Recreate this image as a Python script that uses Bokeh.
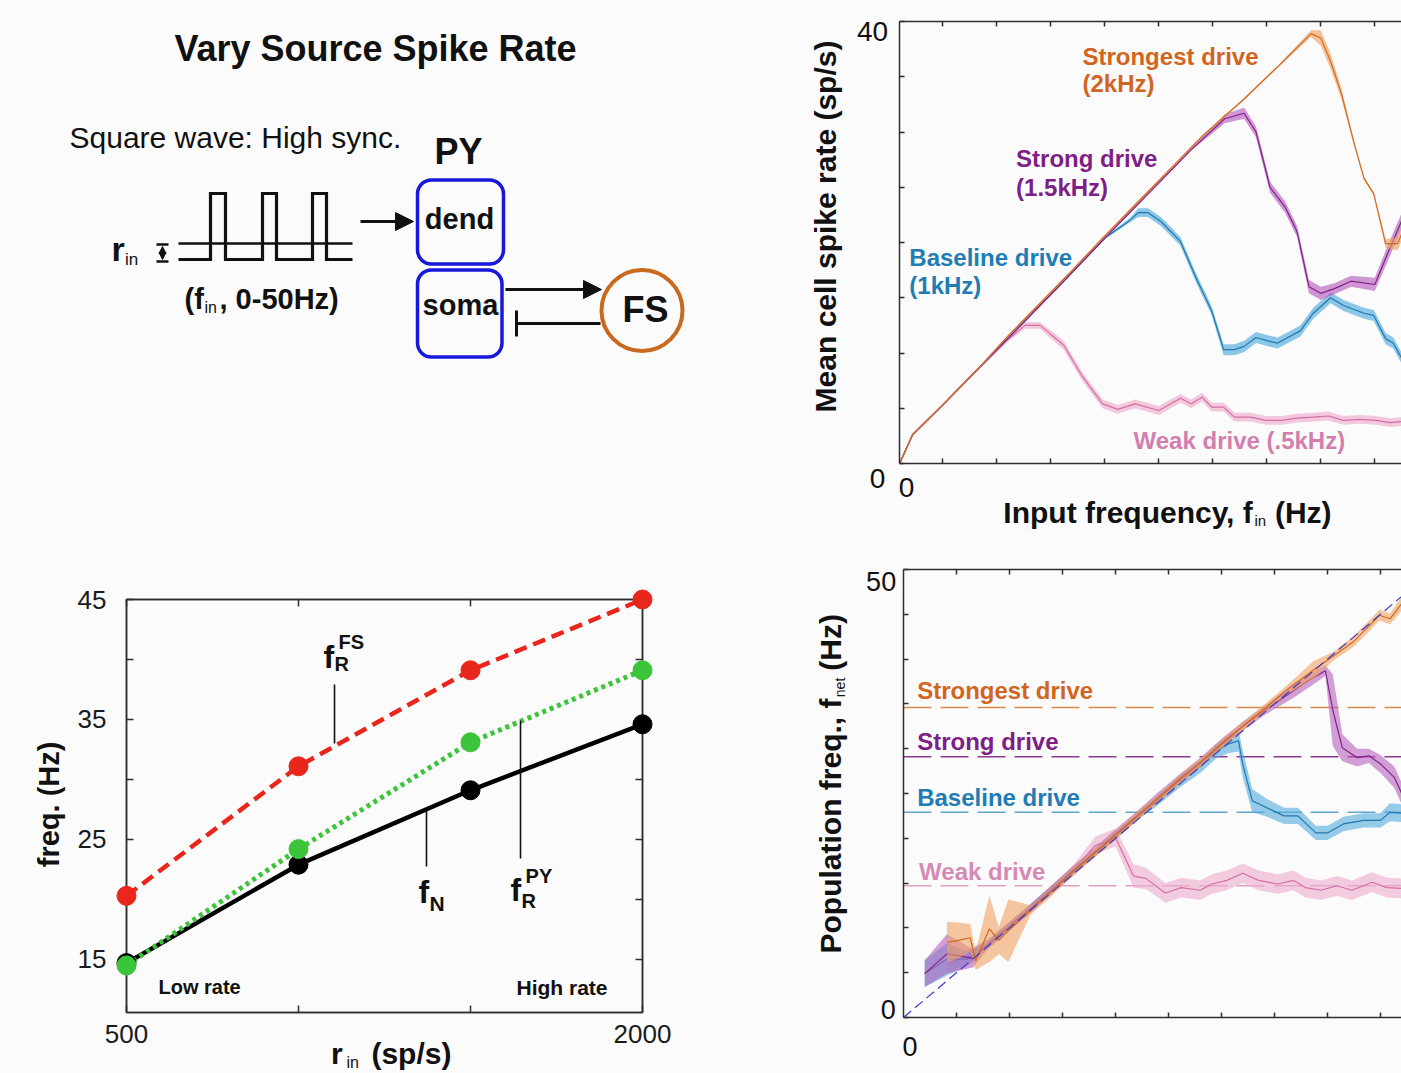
import numpy as np
from bokeh.plotting import figure
from bokeh.models import (Range1d, FixedTicker, Arrow, NormalHead, TeeHead,
                          Span, Slope, LinearAxis)
from bokeh.core.properties import value
from bokeh.layouts import column, row
from bokeh.embed import file_html
from bokeh.resources import INLINE

FONT = "Liberation Sans"
BG = "#fbfbfb"
INK = "#111111"
AX = "#2e2e2e"

# ---------------- bottom-left panel: frequencies vs source rate ----------------
r_in = [500, 1000, 1500, 2000]
f_N = [14.7, 22.9, 29.1, 34.6]
f_R_PY = [14.5, 24.2, 33.1, 39.1]
f_R_FS = [20.3, 31.1, 39.1, 45.0]

# ---------------- top-right panel: mean cell spike rate vs input frequency ----------------
rate_weak_f = [1, 2.2, 5, 8, 11, 12.6, 14.0, 16.2, 17.9, 19.8, 21.2, 22.8, 25.0, 27.0, 28.0, 29.0,
               29.9, 31.0, 32.0, 33.5, 34.9, 36.4, 37.8, 39.3, 40.7, 42.1, 43.6, 45.1, 46.4, 47.5]
rate_weak = [0.0, 2.6, 5.3, 8.3, 11.2, 12.5, 12.5, 10.7, 7.9, 5.4, 4.9, 5.4, 4.8, 5.9, 5.4, 6.0,
             5.1, 5.1, 4.2, 4.2, 3.9, 3.9, 4.1, 4.2, 4.3, 3.9, 4.0, 3.9, 3.7, 3.8]
rate_weak_sem = [0.1, 0.1, 0.1, 0.1, 0.2, 0.3, 0.3, 0.4, 0.4, 0.4, 0.4, 0.4, 0.4, 0.4, 0.4, 0.4,
                 0.4, 0.4, 0.4, 0.4, 0.4, 0.4, 0.4, 0.4, 0.4, 0.4, 0.4, 0.4, 0.4, 0.4]

rate_base_f = [1, 2.2, 5, 8, 12, 16, 20, 22.3, 23.1, 24.0, 25.2, 27.0, 28.4, 29.9, 31.0, 32.0,
               32.9, 34.0, 35.1, 36.0, 38.1, 39.3, 40.9, 42.1, 44.0, 44.9, 46.0, 46.7, 47.5]
rate_base = [0.0, 2.6, 5.3, 8.3, 12.3, 16.3, 20.4, 22.0, 22.7, 22.7, 21.9, 20.1, 16.9, 13.8, 10.3, 10.3,
             10.6, 11.4, 11.1, 10.9, 12.0, 13.6, 15.0, 14.3, 13.6, 13.4, 11.3, 10.9, 9.5]
rate_base_sem = [0.1, 0.1, 0.1, 0.1, 0.1, 0.1, 0.1, 0.2, 0.4, 0.4, 0.4, 0.4, 0.4, 0.4, 0.5, 0.5,
                 0.5, 0.5, 0.5, 0.5, 0.5, 0.5, 0.5, 0.5, 0.5, 0.5, 0.5, 0.5, 0.5]

rate_strong_f = [1, 2.2, 5, 8, 12, 16, 20, 24, 28, 31.1, 32.9, 34.0, 35.3, 36.7, 37.8, 38.9,
                 40.0, 41.2, 42.8, 45.0, 46.1, 47.5]
rate_strong = [0.0, 2.6, 5.3, 8.3, 12.3, 16.3, 20.4, 24.4, 28.4, 31.2, 31.7, 30.0, 25.0, 23.2, 21.0, 16.0,
               15.4, 15.8, 16.5, 16.2, 18.8, 22.0]
rate_strong_sem = [0.1, 0.1, 0.1, 0.1, 0.1, 0.1, 0.1, 0.1, 0.1, 0.4, 0.5, 0.5, 0.5, 0.5, 0.5, 0.6,
                   0.6, 0.5, 0.5, 0.6, 0.7, 0.7]

rate_strongest_f = [1, 2.2, 5, 8, 11, 14, 17, 20, 23, 26, 29, 32.8, 36, 39.1, 40.0,
                    40.9, 41.9, 43.1, 44.0, 44.9, 46.0, 47.1, 47.5]
rate_strongest = [0.0, 2.6, 5.3, 8.3, 11.5, 14.5, 17.5, 20.6, 23.6, 26.6, 29.6, 32.9, 35.9, 38.9, 38.5,
                  36.4, 33.5, 28.9, 25.8, 24.4, 19.9, 19.9, 20.8]
rate_strongest_sem = [0.1, 0.1, 0.1, 0.1, 0.1, 0.1, 0.1, 0.1, 0.1, 0.1, 0.1, 0.1, 0.1, 0.3, 0.7,
                      0.7, 0.5, 0.2, 0.15, 0.15, 0.4, 0.6, 0.6]

# ---------------- bottom-right panel: population frequency vs input frequency ----------------
net_weak_f = [4.1, 6, 8, 10, 12, 14, 16, 18.1, 20.0, 21.7, 22.9, 24.7, 26.2, 28.0,
              29.1, 30.5, 32.0, 33.5, 35.3, 36.8, 37.9, 39.4, 40.9, 42.3, 44.2, 45.6, 47.0]
net_weak = [6.0, 6.8, 8.2, 10.2, 12.2, 14.3, 16.4, 19.2, 20.1, 15.8, 15.5, 13.9, 14.5, 14.2,
            14.9, 15.3, 16.1, 15.3, 14.9, 15.3, 14.5, 14.2, 14.7, 14.2, 15.1, 14.5, 14.4]
net_weak_sem = [1.0, 0.8, 0.5, 0.5, 0.5, 0.5, 0.6, 1.0, 1.0, 1.3, 1.2, 1.1, 1.1, 1.1,
                1.1, 1.1, 1.1, 1.1, 1.1, 1.1, 1.1, 1.1, 1.1, 1.1, 1.1, 1.1, 1.1]

net_base_f = [2.0, 4.1, 6, 8, 10, 12, 14, 16, 18, 20, 22, 24, 26, 28, 29.5,
              30.6, 31.6, 32.0, 32.9, 34.3, 35.9, 37.2, 38.9, 40.0, 41.5, 43.4, 45.0, 45.9, 47.0]
net_base = [4.9, 6.5, 6.5, 8.2, 10.2, 12.2, 14.3, 16.4, 18.3, 20.3, 22.4, 24.2, 26.3, 28.0, 29.7,
            30.5, 30.9, 28.3, 24.2, 23.4, 22.5, 22.5, 20.6, 20.6, 21.6, 22.0, 22.0, 22.9, 22.8]
net_base_sem = [1.5, 1.8, 0.8, 0.5, 0.4, 0.4, 0.4, 0.4, 0.4, 0.4, 0.4, 0.5, 0.7, 0.7, 0.8,
                1.0, 1.2, 1.5, 1.3, 1.0, 0.9, 0.9, 0.8, 0.8, 0.8, 0.8, 0.8, 1.0, 1.0]

net_strong_f = [2.0, 4.1, 6.6, 8, 10, 12, 14, 16, 18, 20, 22, 24, 26, 28,
                30, 32, 34, 36.8, 38.2, 39.8, 40.5, 41.4, 42.8, 43.9, 45.0, 46.3, 47.0]
net_strong = [4.9, 7.1, 6.6, 8.2, 10.2, 12.2, 14.3, 16.4, 18.4, 20.5, 22.5, 24.6, 26.6, 28.5,
              30.6, 32.5, 34.2, 36.5, 37.6, 38.7, 34.3, 30.1, 29.0, 29.2, 28.3, 26.8, 25.0]
net_strong_sem = [1.5, 2.2, 1.0, 0.5, 0.5, 0.5, 0.5, 0.5, 0.5, 0.5, 0.5, 0.5, 0.5, 0.5,
                  0.5, 0.5, 0.5, 0.8, 0.8, 0.6, 4.0, 1.5, 1.0, 0.8, 1.0, 1.2, 1.2]

net_strongest_f = [4.1, 5.2, 6.3, 6.8, 8.1, 9.0, 9.9, 12, 14, 16, 18, 20, 22, 24,
                   26, 28, 30, 32, 34, 36, 38.7, 40.5, 42.5, 44.0, 44.9, 45.9, 47.0]
net_strongest = [8.4, 8.6, 8.9, 6.3, 9.9, 8.6, 9.7, 12.0, 14.1, 16.3, 18.3, 20.3, 22.4, 24.4,
                 26.5, 28.4, 30.5, 32.5, 34.4, 36.4, 38.8, 40.3, 42.0, 43.8, 44.9, 44.5, 46.2]
net_strongest_sem = [2.3, 2.0, 1.5, 1.0, 3.7, 1.5, 3.5, 0.5, 0.5, 0.5, 0.5, 0.5, 0.5, 0.5,
                     0.5, 0.5, 0.5, 0.5, 0.5, 0.5, 1.0, 0.5, 0.6, 0.6, 0.6, 0.6, 0.8]

drive_names = ["Strongest drive", "Strong drive", "Baseline drive", "Weak drive"]

# colours
OR_L, OR_B, OR_T = "#d06a22", "#f0a262", "#d2651e"
PU_L, PU_B, PU_T = "#82208a", "#b660bc", "#7e1e86"
BL_L, BL_B, BL_T = "#1f78b0", "#52abdc", "#1e7db5"
PK_L, PK_B, PK_T = "#d46ea4", "#edaccd", "#d27fae"


def label(p, x, y, s, size, color=INK, bold=True, align="left", angle=0.0):
    # text glyph on the overlay level, so it is not clipped to the plot frame
    p.text(x=[x], y=[y], text=[s], text_font=value(FONT), text_font_size=value(f"{size}px"),
           text_font_style=value("bold" if bold else "normal"), text_color=color,
           text_align=value(align), text_baseline=value("middle"), angle=angle,
           level="overlay")


def unalign(p):
    if "frame_align" in p.properties():
        p.frame_align = False


def base_fig(w, h, xr, yr, left, right, top, bottom):
    p = figure(width=w, height=h, x_range=Range1d(*xr), y_range=Range1d(*yr), title=None,
               output_backend="svg", toolbar_location=None,
               min_border_left=left, min_border_right=right,
               min_border_top=top, min_border_bottom=bottom)
    p.background_fill_color = BG
    p.border_fill_color = BG
    p.xgrid.visible = False
    p.ygrid.visible = False
    unalign(p)
    return p


def style_axis(ax, ticks, labels=None, tick_len=6, size=26, standoff=10):
    ax.ticker = FixedTicker(ticks=ticks, minor_ticks=[])
    ax.major_tick_in = tick_len
    ax.major_tick_out = 0
    ax.minor_tick_in = 0
    ax.minor_tick_out = 0
    ax.axis_line_color = AX
    ax.axis_line_width = 1.5
    ax.major_tick_line_color = AX
    ax.major_tick_line_width = 1.5
    ax.axis_label = None
    if labels is None:
        ax.major_label_overrides = {t: "" for t in ticks}
        ax.major_label_text_font_size = "1px"
        ax.major_label_standoff = 0
    else:
        ax.major_label_overrides = {t: labels.get(t, "") for t in ticks}
        ax.major_label_text_font = FONT
        ax.major_label_text_font_size = f"{size}px"
        ax.major_label_text_color = "#1a1a1a"
        ax.major_label_standoff = standoff


# =============================== schematic (top-left) ===============================
ps = figure(width=790, height=545, x_range=Range1d(0, 790), y_range=Range1d(545, 0),
            x_axis_location=None, y_axis_location=None, title=None,
            output_backend="svg", toolbar_location=None, min_border=0)
ps.grid.visible = False
ps.outline_line_color = None
ps.background_fill_color = BG
ps.border_fill_color = BG
unalign(ps)

label(ps, 375, 48, "Vary Source Spike Rate", 36, align="center")
label(ps, 69, 137, "Square wave: High sync.", 30, bold=False)
label(ps, 458, 151, "PY", 36, align="center")

# square wave input
ps.line([178, 352], [243, 243], line_width=2.5, line_color=INK)
ps.line([178, 210, 210, 225, 225, 262, 262, 276, 276, 312, 312, 326, 326, 352],
        [259, 259, 193, 193, 259, 259, 193, 193, 259, 259, 193, 193, 259, 259],
        line_width=3.2, line_color=INK, line_join="miter")
# amplitude marker
ps.segment(x0=[156, 156], y0=[244, 261], x1=[168, 168], y1=[244, 261], line_width=2.5, line_color=INK)
ps.add_layout(Arrow(start=NormalHead(size=7, fill_color=INK, line_color=INK),
                    end=NormalHead(size=7, fill_color=INK, line_color=INK),
                    x_start=162, y_start=259, x_end=162, y_end=246, line_width=2, line_color=INK))
label(ps, 111, 248, "r", 34)
label(ps, 124.5, 259, "in", 17, bold=False)
label(ps, 184, 298, "(f", 29)
label(ps, 204, 307, "in", 16, bold=False)
label(ps, 219, 298, ", 0-50Hz)", 29)

# input arrow
ps.add_layout(Arrow(end=NormalHead(size=18, fill_color=INK, line_color=INK),
                    x_start=360, y_start=221, x_end=413, y_end=221, line_width=3, line_color=INK))

# PY compartments
BOX = "#1818dc"
ps.quad(left=[417, 417], right=[503, 501.5], top=[179.5, 269.5], bottom=[263.5, 356.5],
        border_radius=14, fill_color=None, line_color=BOX, line_width=3.5)
label(ps, 459, 218, "dend", 29, align="center")
label(ps, 460, 304, "soma", 29, align="center")

# soma <-> FS
ps.add_layout(Arrow(end=NormalHead(size=18, fill_color=INK, line_color=INK),
                    x_start=505, y_start=289, x_end=601, y_end=289, line_width=3, line_color=INK))
ps.add_layout(Arrow(end=TeeHead(size=26, line_width=3, line_color=INK),
                    x_start=600, y_start=323, x_end=516, y_end=323, line_width=3, line_color=INK))
ps.scatter([641.5], [310], marker="circle", size=81, fill_color=None,
           line_color="#c9691e", line_width=4)
label(ps, 645, 309, "FS", 36, align="center")

# =============================== top-right ===============================
pt = base_fig(611, 545, (0.99, 47.47), (0, 40), 109, 0, 21, 82)
pt.outline_line_color = None
pt.add_layout(LinearAxis(), "above")
xt = [5, 10, 15, 20, 25, 30, 35, 40, 45]
yt = [0, 5, 10, 15, 20, 25, 30, 35, 40]
for ax in pt.xaxis:
    style_axis(ax, xt, tick_len=5)
for ax in pt.yaxis:
    style_axis(ax, yt, tick_len=5)

for fx, fy, fs, lc, bc in [
    (rate_weak_f, rate_weak, rate_weak_sem, PK_L, PK_B),
    (rate_base_f, rate_base, rate_base_sem, BL_L, BL_B),
    (rate_strong_f, rate_strong, rate_strong_sem, PU_L, PU_B),
    (rate_strongest_f, rate_strongest, rate_strongest_sem, OR_L, OR_B),
]:
    m = np.array(fy); s = np.array(fs)
    pt.varea(x=fx, y1=m - s, y2=m + s, fill_color=bc, fill_alpha=0.65)
    pt.line(fx, fy, line_color=lc, line_width=1.2)

label(pt, -1.51, 39.1, "40", 28, bold=False, align="center")
label(pt, -1.05, -1.4, "0", 28, bold=False, align="center")
label(pt, 1.64, -2.2, "0", 28, bold=False, align="center")
label(pt, -5.9, 21.45, "Mean cell spike rate (sp/s)", 30, align="center", angle=np.pi / 2)
label(pt, 33.7, -4.43, "Input frequency, f", 30, align="right")
label(pt, 33.85, -5.2, "in", 15, bold=False)
label(pt, 35.75, -4.43, "(Hz)", 30)

label(pt, 17.93, 36.8, "Strongest drive", 24, color=OR_T)
label(pt, 17.93, 34.4, "(2kHz)", 24, color=OR_T)
label(pt, 11.78, 27.6, "Strong drive", 24, color=PU_T)
label(pt, 11.78, 25.0, "(1.5kHz)", 24, color=PU_T)
label(pt, 1.90, 18.6, "Baseline drive", 24, color=BL_T)
label(pt, 1.90, 16.1, "(1kHz)", 24, color=BL_T)
label(pt, 22.66, 2.1, "Weak drive (.5kHz)", 24, color=PK_T)

# =============================== bottom-left ===============================
pb = base_fig(790, 528, (500, 2000), (10.58, 45), 126, 148, 54, 61)
pb.outline_line_color = AX
pb.outline_line_width = 1.5
pb.add_layout(LinearAxis(), "above")
pb.add_layout(LinearAxis(), "right")
bx = [500, 1000, 1500, 2000]
by = [15, 20, 25, 30, 35, 40, 45]
style_axis(pb.below[0], bx, labels={500: "500", 2000: "2000"}, tick_len=7, size=26, standoff=12)
style_axis(pb.above[0], bx, tick_len=7)
style_axis(pb.left[0], by, labels={15: "15", 25: "25", 35: "35", 45: "45"}, tick_len=7, size=26, standoff=20)
style_axis(pb.right[0], by, tick_len=7)

RED, GREEN = "#e8261c", "#3cc43a"
pb.line(r_in, f_N, line_color="black", line_width=4.5)
pb.line(r_in, f_R_PY, line_color=GREEN, line_width=5, line_dash="4 4")
pb.line(r_in, f_R_FS, line_color=RED, line_width=4.5, line_dash="13 7")
pb.scatter(r_in, f_N, size=19, color="black", level="overlay")
pb.scatter(r_in, f_R_PY, size=19, color=GREEN, level="overlay")
pb.scatter(r_in, f_R_FS, size=19, color=RED, level="overlay")

# pointer lines and curve names
pb.segment(x0=[1104.7, 1372.1, 1645.4], y0=[37.92, 27.42, 34.92],
           x1=[1104.7, 1372.1, 1645.4], y1=[33.0, 22.75, 23.42], line_color=INK, line_width=1.6)
label(pb, 1072.7, 40.21, "f", 32)
label(pb, 1116.3, 41.43, "FS", 20)
label(pb, 1104.7, 39.6, "R", 20)
label(pb, 1348.8, 20.6, "f", 32)
label(pb, 1380.8, 19.7, "N", 21)
label(pb, 1616.3, 20.8, "f", 32)
label(pb, 1660.0, 21.95, "PY", 20)
label(pb, 1648.2, 19.85, "R", 20)

label(pb, 593, 12.7, "Low rate", 20)
label(pb, 1633.7, 12.7, "High rate", 21)
label(pb, 273.3, 27.92, "freq. (Hz)", 29, align="center", angle=np.pi / 2)
label(pb, 1094.8, 7.15, "r", 30)
label(pb, 1139.5, 6.45, "in", 16, bold=False)
label(pb, 1212.0, 7.15, "(sp/s)", 30)

# =============================== bottom-right ===============================
pr = base_fig(611, 528, (0, 46.98), (0, 50), 113, 0, 24, 56)
pr.outline_line_color = None
pr.add_layout(LinearAxis(), "above")
rx = [5, 10, 15, 20, 25, 30, 35, 40, 45]
ry = [0, 5, 10, 15, 20, 25, 30, 35, 40, 45, 50]
for ax in pr.xaxis:
    style_axis(ax, rx, tick_len=5)
for ax in pr.yaxis:
    style_axis(ax, ry, tick_len=5)

# reference levels: network frequency f_N of each drive
for lvl, c in zip(f_N, ["#e0a0c4", "#5fa8cc", "#8a3a92", "#d88a4c"]):
    pr.add_layout(Span(location=lvl, dimension="width", line_color=c, line_width=1.4,
                       line_dash="28 9", level="underlay"))

for fx, fy, fs, lc, bc in [
    (net_weak_f, net_weak, net_weak_sem, PK_L, PK_B),
    (net_base_f, net_base, net_base_sem, BL_L, BL_B),
    (net_strong_f, net_strong, net_strong_sem, PU_L, PU_B),
    (net_strongest_f, net_strongest, net_strongest_sem, OR_L, OR_B),
]:
    m = np.array(fy); s = np.array(fs)
    pr.varea(x=fx, y1=m - s, y2=m + s, fill_color=bc, fill_alpha=0.6)
    pr.line(fx, fy, line_color=lc, line_width=1.2)

pr.add_layout(Slope(gradient=1, y_intercept=0, line_color="#3b3bc8", line_width=1.2, line_dash="10 5"))

label(pr, -2.11, 48.7, "50", 27, bold=False, align="center")
label(pr, -1.43, 0.94, "0", 27, bold=False, align="center")
label(pr, 0.62, -3.25, "0", 27, bold=False, align="center")
label(pr, -6.93, 35.6, "Population freq., f", 30, align="right", angle=np.pi / 2)
label(pr, -6.02, 35.75, "net", 14, bold=False, angle=np.pi / 2)
label(pr, -6.93, 38.7, "(Hz)", 30, angle=np.pi / 2)

for name, yy, xx, c in zip(drive_names, [36.45, 30.85, 24.55, 16.35], [1.29, 1.29, 1.29, 1.47],
                           [OR_T, PU_T, BL_T, "#d58ab4"]):
    label(pr, xx, yy, name, 24, color=c)

layout = column(row(ps, pt), row(pb, pr))
open("out.html", "w").write(file_html(layout, INLINE))
